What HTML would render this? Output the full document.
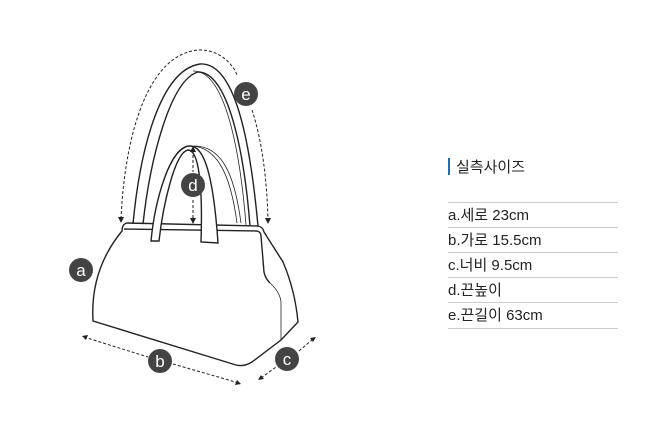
<!DOCTYPE html>
<html><head><meta charset="utf-8"><style>
body{margin:0;background:#fff;width:650px;height:426px;overflow:hidden;font-family:"Liberation Sans","Noto Sans CJK KR",sans-serif}
svg{position:absolute;left:0;top:0}
.t{position:absolute;left:448px;top:156px;font-size:15px;color:#222}
.t .bar{display:inline-block;width:2px;height:17px;background:#1b6fb5;vertical-align:-3px;margin-right:6px}
.row{position:absolute;left:448px;width:170px;height:25px;border-top:1px solid #ccc;font-size:15px;color:#222;line-height:25px}
</style></head><body>
<svg width="650" height="426" viewBox="0 0 650 426" fill="none" stroke="#222" stroke-width="1.4">
<!-- body -->
<path d="M127 223 L258 226 Q263 227 264 232 L283 262 Q295 290 298 322 L281 340 L252 362 Q244 367 236 365 L93 321 Q90 270 122 231 Q122 224 127 223 Z" fill="#fff"/>
<path d="M124 229 L257 231 Q261 232 261 236 L264 272 Q265 278 270 283" />
<path d="M270 283 Q280 292 281 302 L281 340" stroke-width="0.8"/>
<!-- long handle -->
<path d="M133 224 C140 150 160 70 200 64 C235 62 250 140 258 226"/>
<path d="M143 224 C150 160 170 80 198 72 C228 72 244 150 250 226"/>
<path d="M193 71 C225 70 240 150 246 225" stroke-width="0.8"/>
<!-- short handle back -->
<path d="M190 146 C215 146 230 170 237 223" stroke-width="0.8"/>
<path d="M194 146 C220 146 234 170 241 223" stroke-width="0.8"/>
<!-- short handle front -->
<path d="M151 241 C155 200 170 146 190 146 C203 146 213 170 218 243 L201 242 C203 180 198 150 188 150 C175 152 163 205 159 241 Z" fill="#fff"/>
<!-- dashed arrows -->
<g stroke-dasharray="3 2" stroke-width="1">
<path d="M121 219 C125 130 150 52 200 50 C218 50 232 62 237 75"/>
<path d="M252 110 C262 140 267 180 268 220"/>
<path d="M193 150 L193 172 M193 200 L193 220"/>
<path d="M84 337 L148 357 M173 364 L239 383"/>
<path d="M261 378 L276 367 M299 351 L313 339"/>
</g>
<g fill="#222" stroke="none">
<path d="M118 217 L124 217 L121 223Z"/><path d="M265 218 L271 218 L268 224Z"/>
<path d="M190 152 L196 152 L193 146Z"/><path d="M190 218 L196 218 L193 224Z"/>
<path d="M82 336 L88 335 L86 340Z"/><path d="M241 384 L235 385 L237 380Z"/>
<path d="M258 380 L261 375 L264 379Z"/><path d="M316 337 L313 342 L310 338Z"/>
</g>
<g fill="#444" stroke="none">
<circle cx="81" cy="270" r="12"/><circle cx="160" cy="361" r="12"/><circle cx="287" cy="359" r="12"/><circle cx="193" cy="185" r="12"/><circle cx="246" cy="94" r="12"/>
</g>
<g fill="#fff" stroke="none" font-family="Liberation Sans,sans-serif" font-size="17" text-anchor="middle">
<text x="81" y="276">a</text><text x="160" y="367">b</text><text x="287" y="365">c</text><text x="193" y="191">d</text><text x="246" y="100">e</text>
</g>
</svg>
<div class="t"><span class="bar"></span>실측사이즈</div>
<div class="row" style="top:202px">a.세로 23cm</div>
<div class="row" style="top:227px">b.가로 15.5cm</div>
<div class="row" style="top:252px">c.너비 9.5cm</div>
<div class="row" style="top:277px">d.끈높이</div>
<div class="row" style="top:302px;border-bottom:1px solid #ccc">e.끈길이 63cm</div>
</body></html>
